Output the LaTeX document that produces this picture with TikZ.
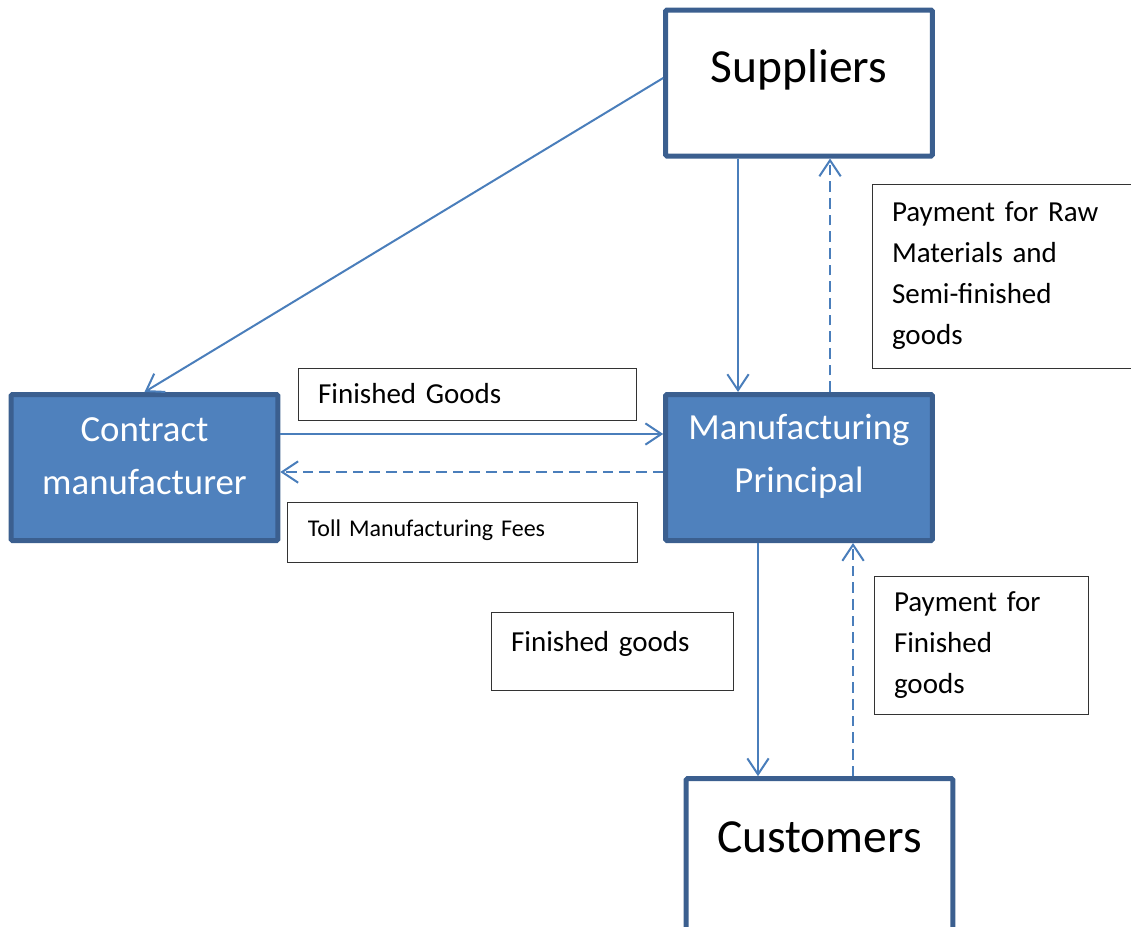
\documentclass[tikz,border=0pt]{standalone}
\usepackage{fontspec}
\setmainfont{Carlito}
\usetikzlibrary{arrows.meta,calc}

\definecolor{boxfill}{RGB}{79,129,189}
\definecolor{boxedge}{RGB}{59,95,143}
\definecolor{flowline}{RGB}{74,126,187}

\tikzset{
  mainbox/.style={draw=boxedge, line width=3.75pt, rounded corners=1pt, minimum width=200pt, minimum height=109.5pt, inner sep=0pt},
  filledbox/.style={mainbox, fill=boxfill},
  bigtext/.style={font=\fontsize{35.6}{42}\selectfont, inner sep=0pt},
  boxtext/.style={font=\fontsize{27.6}{39.75}\selectfont, text=white, align=center, inner sep=0pt},
  infobox/.style={draw=black!80, line width=0.75pt, inner xsep=15pt, inner ysep=0pt, align=left, text width=#1, font=\fontsize{21.75}{30.75}\selectfont},
  flow/.style={draw=flowline, line width=1.5pt, -{Straight Barb[length=12pt,width=16pt]}},
  payflow/.style={flow, dash pattern=on 8pt off 4.5pt}
}

\begin{document}
\begin{tikzpicture}[x=0.75pt,y=0.75pt,yscale=-1,xscale=1]
        \useasboundingbox (0,0) rectangle (1131,926);

        %Shape: Rectangle [id:sup]
        \node [mainbox] (sup) at (799,83) {};
        %Shape: Rectangle [id:cm]
        \node [filledbox] (cm) at (144.5,467.5) {};
        %Shape: Rectangle [id:mp]
        \node [filledbox] (mp) at (799,467.5) {};
        %Shape: Rectangle [id:cus] (runs off the bottom edge)
        \node [mainbox, minimum height=125pt] (cus) at (819.5,862) {};

        % Text Node
        \node [bigtext] (suptext) at (799,70) {Suppliers};
        % Text Node
        \node [boxtext] (cmtext) at (144.5,456) {Contract\\manufacturer};
        % Text Node
        \node [boxtext] (mptext) at (799,456) {Manufacturing\\Principal};
        % Text Node
        \node [bigtext] (custext) at (819.5,837) {Customers};

        %Shape: Rectangle [id:fgbox]
        \node [infobox=224pt, minimum height=39pt] (fgbox) at (467.5,394) {Finished Goods};
        %Shape: Rectangle [id:tollbox]
        \node [infobox=232pt, minimum height=45pt, font=\fontsize{18}{24}\selectfont] (tollbox) at (462.5,532) {Toll Manufacturing Fees\\[-18pt]\mbox{}};
        %Shape: Rectangle [id:rawbox]
        \node [infobox=201pt, minimum height=138pt] (rawbox) at (1026,276) {Payment for Raw\\Materials and\\Semi-finished\\goods};
        %Shape: Rectangle [id:fgdbox]
        \node [infobox=152pt, minimum height=59pt] (fgdbox) at (612.5,651.5) {Finished goods\\[-15pt]\mbox{}};
        %Shape: Rectangle [id:paybox]
        \node [infobox=130.5pt, minimum height=103.5pt] (paybox) at (981,645) {Payment for\\Finished\\goods};

        %Straight Lines [id:raw to contract]
        \draw [flow] ($(sup.west)+(0,-5)$) -- (cm.north);
        %Straight Lines [id:raw to principal]
        \draw [flow] ($(sup.south)+(-61,0)$) -- ($(mp.north)+(-61,0)$);
        %Straight Lines [id:pay suppliers]
        \draw [payflow] ($(mp.north)+(31,0)$) -- ($(sup.south)+(31,0)$);
        %Straight Lines [id:goods to principal]
        \draw [flow] ($(cm.east)+(0,-33.5)$) -- ($(mp.west)+(0,-33.5)$);
        %Straight Lines [id:toll fees]
        \draw [payflow] ($(mp.west)+(0,4.5)$) -- ($(cm.east)+(0,4.5)$);
        %Straight Lines [id:goods to customers]
        \draw [flow] ($(mp.south)+(-41,0)$) -- ($(cus.north)+(-61.5,0)$);
        %Straight Lines [id:pay principal]
        \draw [payflow] ($(cus.north)+(33.5,0)$) -- ($(mp.south)+(54,0)$);
    \end{tikzpicture}
\end{document}
